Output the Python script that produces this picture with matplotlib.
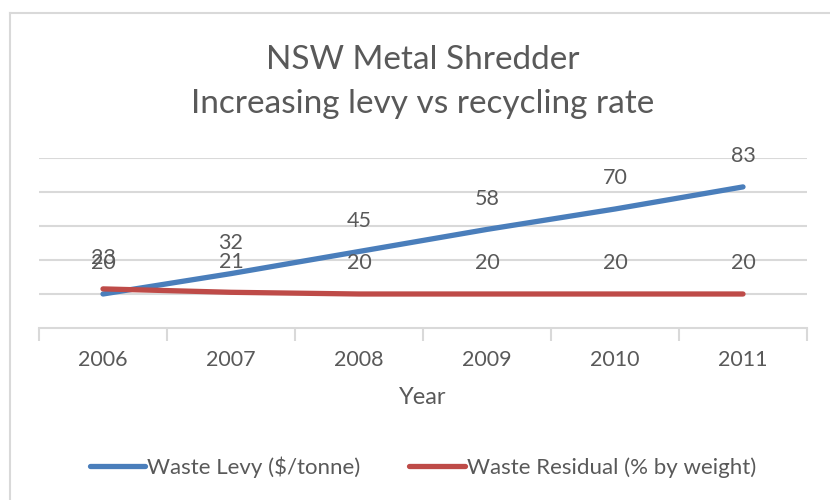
import matplotlib
matplotlib.use("Agg")
import matplotlib.pyplot as plt
from matplotlib.lines import Line2D

years = ["2006", "2007", "2008", "2009", "2010", "2011"]
levy = [20, 32, 45, 58, 70, 83]
residual = [23, 21, 20, 20, 20, 20]
title_lines = ["NSW Metal Shredder", "Increasing levy vs recycling rate"]
xlabel = "Year"
levy_name = "Waste Levy ($/tonne)"
residual_name = "Waste Residual (% by weight)"

plt.rcParams['font.family'] = ['Lato', 'DejaVu Sans']
TXT = '#595959'
BLUE = '#4A7EBB'
RED = '#BE4B48'
GRID = '#D9D9D9'

W, H = 830, 500
fig = plt.figure(figsize=(W/100, H/100), dpi=100)
fig.patch.set_facecolor('white')

# outer chart frame
fig.add_artist(Line2D([10/W, 10/W], [0, 1 - 13/H], transform=fig.transFigure, color=GRID, lw=1.5))
fig.add_artist(Line2D([10/W, 1], [1 - 13/H, 1 - 13/H], transform=fig.transFigure, color=GRID, lw=1.5))

left, right, top, bottom = 39, 807, 158, 328
ax = fig.add_axes([left/W, 1 - bottom/H, (right-left)/W, (bottom-top)/H])
x = list(range(len(years)))
ax.set_xlim(-0.5, len(years) - 0.5)
ax.set_ylim(0, 100)
ax.set_yticks([20, 40, 60, 80, 100])
ax.yaxis.grid(True, color=GRID, lw=1.5)
ax.set_axisbelow(True)
ax.tick_params(axis='y', length=0, labelleft=False)
for s in ['top', 'right', 'left']:
    ax.spines[s].set_visible(False)
ax.spines['bottom'].set_color(GRID)
ax.spines['bottom'].set_linewidth(1.5)

ax.set_xticks([i - 0.5 for i in range(len(years) + 1)])
ax.set_xticklabels([])
ax.set_xticks(x, minor=True)
ax.set_xticklabels(years, minor=True)
ax.tick_params(axis='x', which='major', direction='out', length=9, width=1.5, color=GRID)
ax.tick_params(axis='x', which='minor', length=0, labelsize=15.5, labelcolor=TXT, pad=16)

ax.plot(x, levy, color=BLUE, lw=3.8, solid_capstyle='round', label=levy_name, zorder=3)
ax.plot(x, residual, color=RED, lw=3.8, solid_capstyle='round', label=residual_name, zorder=3)

for xi, v in zip(x, levy):
    ax.annotate(str(v), (xi, v), xytext=(0, 22), textcoords='offset points',
                ha='center', va='center', fontsize=15.5, color=TXT)
for xi, v in zip(x, residual):
    ax.annotate(str(v), (xi, v), xytext=(0, 22), textcoords='offset points',
                ha='center', va='center', fontsize=15.5, color=TXT)

ax.set_xlabel(xlabel, fontsize=17, color=TXT, labelpad=12)

cx = (left + right) / 2 / W
fig.text(cx, 1 - 60/H, title_lines[0], ha='center', va='center', fontsize=24, color=TXT)
fig.text(cx, 1 - 104/H, title_lines[1], ha='center', va='center', fontsize=24, color=TXT)

leg = fig.legend(loc='center', bbox_to_anchor=(cx, 1 - 467/H), ncol=2, frameon=False,
                 fontsize=16, handlelength=2.5, handletextpad=0.1, columnspacing=2.2,
                 labelcolor=TXT)

fig.savefig('out.png', dpi=100, facecolor='white')
